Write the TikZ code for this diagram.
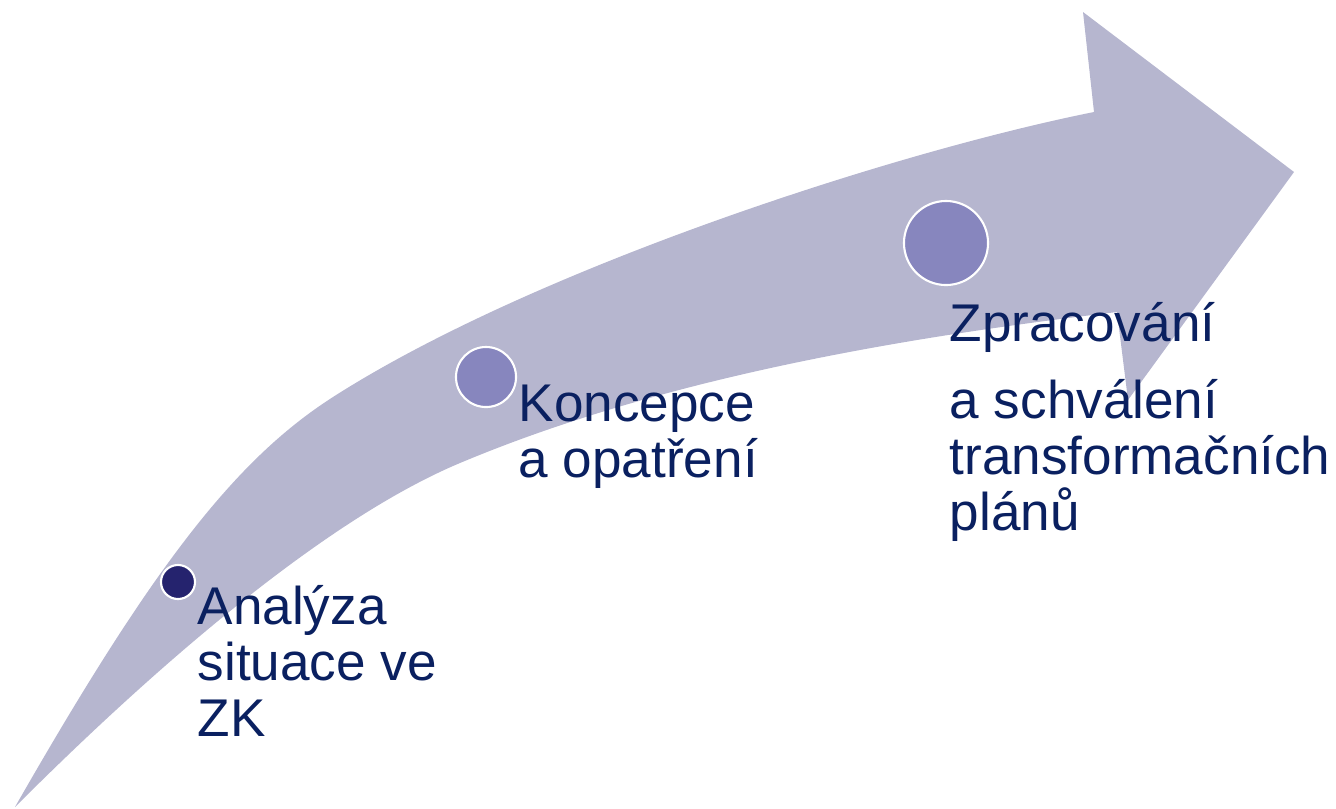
\documentclass[tikz,border=0pt]{standalone}
\usepackage{fontspec}
\setmainfont{Liberation Sans}

\definecolor{arrowfill}{RGB}{182,182,207}
\definecolor{dotlight}{RGB}{135,134,190}
\definecolor{dotdark}{RGB}{37,35,110}
\definecolor{labeltext}{RGB}{10,32,96}

\begin{document}
\begin{tikzpicture}[x=0.01cm,y=-0.01cm,
  dot/.style={circle,fill=dotlight,draw=white,line width=0.6pt,inner sep=0pt},
  steplabel/.style={anchor=base west,inner sep=0pt,align=left,text=labeltext,
    font=\fontsize{15.1}{15.8}\selectfont}]
\useasboundingbox (0,0) rectangle (1336,808);

% the bent arrow
\fill[arrowfill] (15,807) .. controls (150,571) and (233,461) .. (333,397)
  .. controls (533,269) and (894,152) .. (1094,112)
  -- (1083,12) -- (1294,172) -- (1128,400) -- (1117,312)
  .. controls (897,338) and (660,379) .. (460,463)
  .. controls (305,528) and (115,707) .. cycle;

% milestones
\node[dot,fill=dotdark,minimum size=0.34cm] (dot1) at (178,582) {};
\node[dot,minimum size=0.60cm] (dot2) at (486,377) {};
\node[dot,minimum size=0.84cm] (dot3) at (946,243) {};

% labels, placed by the baseline of their last line
\node[steplabel] (analyza) at (197,736) {Analýza\\situace ve\\ZK};
\node[steplabel] (koncepce) at (518,477) {Koncepce\\a opatření};
\node[steplabel] (zpracovani) at (949,530) {Zpracování\\[6.3pt]a schválení\\transformačních\\plánů};
\end{tikzpicture}
\end{document}
